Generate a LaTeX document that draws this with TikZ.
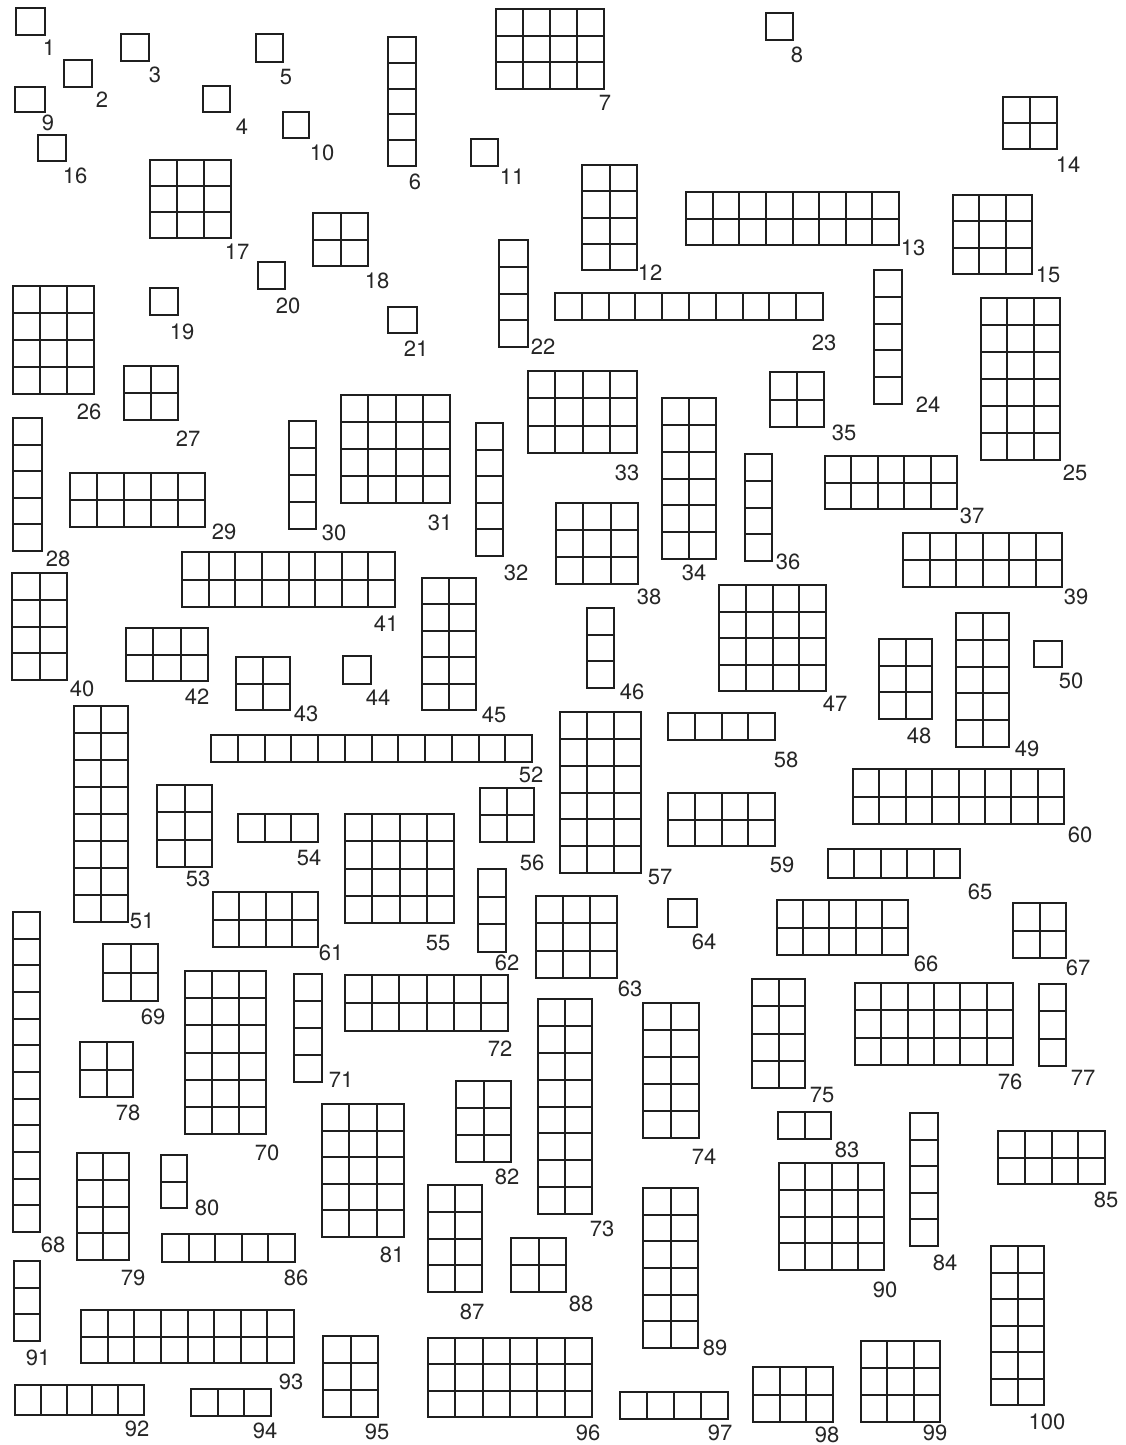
\documentclass[tikz,border=0pt]{standalone}
\usepackage{fontspec}
\setmainfont{TeX Gyre Heros}
\tikzset{
  cellline/.style={draw=black!88, line width=2pt, line cap=rect},
  lab/.style={inner sep=0pt, font=\fontsize{22}{22}\selectfont, text=black!85}
}
% \G{x1}{y1}{x2}{y2}{cols}{rows}{label}{lx}{ly}
\newcommand\G[9]{%
  \coordinate (g#7a) at (#1,#2);
  \coordinate (g#7b) at (#3,#4);
  \draw[cellline] (g#7a) rectangle (g#7b);
  \ifnum#5>1
    \pgfmathtruncatemacro\ncols{#5-1}%
    \foreach \i in {1,...,\ncols}{\pgfmathsetmacro\xx{round(#1+\i*(#3-#1)/#5)}\draw[cellline] (\xx,#2)--(\xx,#4);}%
  \fi
  \ifnum#6>1
    \pgfmathtruncatemacro\nrows{#6-1}%
    \foreach \j in {1,...,\nrows}{\pgfmathsetmacro\yy{round(#2+\j*(#4-#2)/#6)}\draw[cellline] (#1,\yy)--(#3,\yy);}%
  \fi
  \node[lab] (n#7) at (#8,#9) {#7};
}
\begin{document}
\begin{tikzpicture}[x=1pt,y=-1pt]
\useasboundingbox[fill=white] (0,0) rectangle (1125,1445);
\G{16}{8}{45}{35}{1}{1}{1}{49}{48}
\G{64}{60}{92}{87}{1}{1}{2}{102}{100}
\G{121}{34}{149}{61}{1}{1}{3}{155}{75}
\G{203}{86}{230}{112}{1}{1}{4}{242}{127}
\G{256}{34}{283}{62}{1}{1}{5}{286}{77}
\G{388}{37}{416}{166}{1}{5}{6}{415}{182}
\G{496}{9}{604}{89}{4}{3}{7}{605}{103}
\G{766}{13}{793}{40}{1}{1}{8}{797}{55}
\G{15}{87}{45}{112}{1}{1}{9}{48}{123}
\G{283}{112}{309}{138}{1}{1}{10}{322}{153}
\G{471}{139}{498}{166}{1}{1}{11}{512}{177}
\G{582}{165}{637}{270}{2}{4}{12}{650}{273}
\G{686}{192}{899}{245}{8}{2}{13}{913}{248}
\G{1003}{97}{1057}{149}{2}{2}{14}{1068}{165}
\G{953}{195}{1032}{274}{3}{3}{15}{1048}{275}
\G{38}{135}{66}{161}{1}{1}{16}{75}{176}
\G{150}{160}{231}{238}{3}{3}{17}{237}{252}
\G{313}{213}{368}{266}{2}{2}{18}{377}{281}
\G{150}{288}{178}{315}{1}{1}{19}{182}{332}
\G{258}{262}{285}{289}{1}{1}{20}{288}{306}
\G{388}{307}{417}{333}{1}{1}{21}{416}{349}
\G{499}{240}{528}{347}{1}{4}{22}{543}{347}
\G{555}{293}{823}{320}{10}{1}{23}{824}{343}
\G{874}{270}{902}{404}{1}{5}{24}{928}{405}
\G{981}{298}{1060}{460}{3}{6}{25}{1075}{473}
\G{13}{286}{94}{394}{3}{4}{26}{89}{412}
\G{124}{366}{178}{420}{2}{2}{27}{188}{439}
\G{13}{418}{42}{551}{1}{5}{28}{58}{559}
\G{70}{473}{205}{527}{5}{2}{29}{224}{532}
\G{289}{421}{316}{529}{1}{4}{30}{334}{533}
\G{341}{395}{450}{503}{4}{4}{31}{440}{523}
\G{476}{423}{503}{556}{1}{5}{32}{516}{573}
\G{528}{371}{637}{453}{4}{3}{33}{627}{473}
\G{662}{398}{716}{559}{2}{6}{34}{694}{573}
\G{770}{372}{824}{427}{2}{2}{35}{844}{433}
\G{745}{454}{772}{561}{1}{4}{36}{788}{562}
\G{825}{456}{957}{509}{5}{2}{37}{972}{516}
\G{556}{503}{638}{584}{3}{3}{38}{649}{597}
\G{903}{533}{1062}{587}{6}{2}{39}{1076}{597}
\G{12}{573}{67}{680}{2}{4}{40}{82}{689}
\G{182}{552}{395}{607}{8}{2}{41}{386}{624}
\G{126}{628}{208}{681}{3}{2}{42}{197}{697}
\G{236}{657}{290}{710}{2}{2}{43}{306}{714}
\G{343}{656}{371}{684}{1}{1}{44}{378}{698}
\G{422}{578}{476}{710}{2}{5}{45}{494}{715}
\G{587}{608}{614}{688}{1}{3}{46}{632}{692}
\G{719}{585}{826}{691}{4}{4}{47}{835}{704}
\G{879}{639}{932}{719}{2}{3}{48}{919}{736}
\G{956}{613}{1009}{747}{2}{5}{49}{1027}{749}
\G{1034}{641}{1062}{667}{1}{1}{50}{1071}{681}
\G{74}{706}{128}{922}{2}{8}{51}{142}{921}
\G{211}{735}{532}{762}{12}{1}{52}{531}{775}
\G{157}{785}{212}{867}{2}{3}{53}{198}{879}
\G{238}{814}{318}{842}{3}{1}{54}{309}{858}
\G{345}{814}{454}{923}{4}{4}{55}{438}{943}
\G{480}{788}{534}{842}{2}{2}{56}{532}{863}
\G{560}{712}{641}{873}{3}{6}{57}{660}{877}
\G{668}{713}{775}{740}{4}{1}{58}{786}{760}
\G{668}{793}{775}{846}{4}{2}{59}{782}{865}
\G{853}{769}{1064}{824}{8}{2}{60}{1080}{835}
\G{213}{892}{318}{947}{4}{2}{61}{331}{953}
\G{478}{869}{506}{952}{1}{3}{62}{507}{963}
\G{536}{896}{617}{978}{3}{3}{63}{630}{989}
\G{668}{899}{697}{927}{1}{1}{64}{704}{942}
\G{828}{849}{960}{878}{5}{1}{65}{980}{892}
\G{777}{900}{908}{955}{5}{2}{66}{926}{964}
\G{1013}{903}{1066}{958}{2}{2}{67}{1078}{968}
\G{13}{912}{40}{1232}{1}{12}{68}{53}{1245}
\G{103}{944}{158}{1001}{2}{2}{69}{153}{1017}
\G{185}{971}{266}{1134}{3}{6}{70}{267}{1153}
\G{294}{974}{322}{1082}{1}{4}{71}{341}{1080}
\G{345}{975}{508}{1031}{6}{2}{72}{500}{1049}
\G{538}{999}{592}{1214}{2}{8}{73}{602}{1229}
\G{643}{1003}{699}{1138}{2}{5}{74}{704}{1157}
\G{752}{979}{805}{1088}{2}{4}{75}{822}{1095}
\G{855}{983}{1013}{1065}{6}{3}{76}{1010}{1082}
\G{1039}{984}{1066}{1066}{1}{3}{77}{1083}{1078}
\G{80}{1042}{133}{1097}{2}{2}{78}{128}{1113}
\G{77}{1153}{129}{1260}{2}{4}{79}{133}{1278}
\G{161}{1155}{187}{1208}{1}{2}{80}{207}{1208}
\G{322}{1104}{404}{1237}{3}{5}{81}{392}{1255}
\G{456}{1081}{511}{1162}{2}{3}{82}{507}{1177}
\G{778}{1112}{831}{1139}{2}{1}{83}{847}{1150}
\G{910}{1113}{938}{1246}{1}{5}{84}{945}{1263}
\G{998}{1131}{1105}{1184}{4}{2}{85}{1106}{1200}
\G{162}{1234}{295}{1262}{5}{1}{86}{296}{1278}
\G{428}{1185}{482}{1292}{2}{4}{87}{472}{1312}
\G{511}{1238}{566}{1292}{2}{2}{88}{581}{1304}
\G{643}{1188}{698}{1348}{2}{6}{89}{715}{1348}
\G{779}{1163}{884}{1270}{4}{4}{90}{885}{1290}
\G{14}{1261}{40}{1341}{1}{3}{91}{38}{1358}
\G{15}{1385}{144}{1415}{5}{1}{92}{137}{1429}
\G{81}{1310}{294}{1363}{8}{2}{93}{291}{1382}
\G{191}{1389}{271}{1416}{3}{1}{94}{265}{1431}
\G{323}{1336}{378}{1417}{2}{3}{95}{377}{1432}
\G{428}{1338}{592}{1417}{6}{3}{96}{588}{1433}
\G{620}{1392}{728}{1419}{4}{1}{97}{720}{1433}
\G{753}{1367}{833}{1422}{3}{2}{98}{827}{1435}
\G{861}{1341}{940}{1422}{3}{3}{99}{935}{1433}
\G{991}{1246}{1044}{1405}{2}{6}{100}{1047}{1422}
\end{tikzpicture}
\end{document}
